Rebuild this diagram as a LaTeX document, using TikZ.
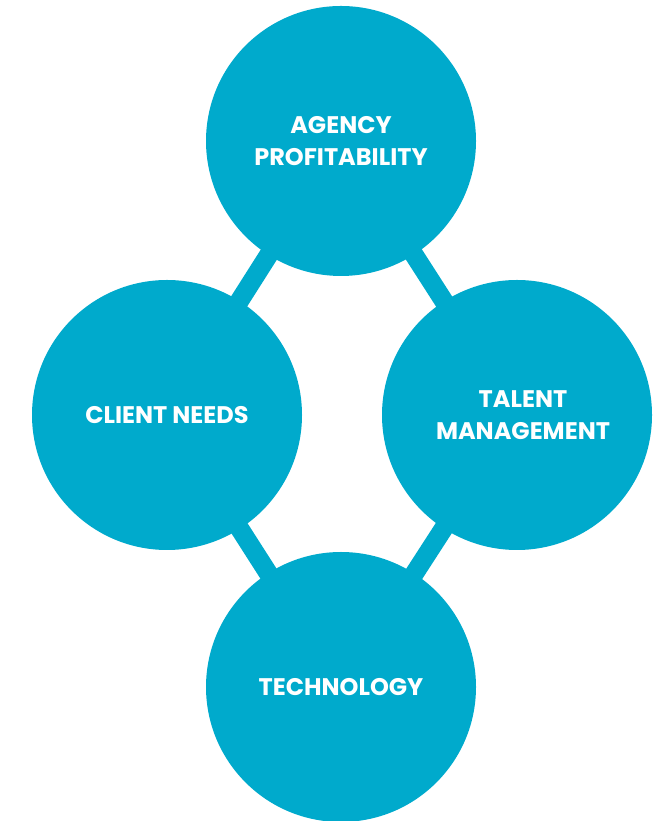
\documentclass[tikz,border=0pt]{standalone}
\usepackage{fontspec}
\setmainfont{Poppins}[BoldFont={* Bold}]
\usetikzlibrary{backgrounds}
\definecolor{teal}{RGB}{0,170,204}
\begin{document}
\begin{tikzpicture}[x=1pt,y=1pt,
  bubble/.style={circle,fill=teal,minimum size=270pt,inner sep=0pt,
    text=white,font=\bfseries\fontsize{24}{32}\selectfont,align=center},
  link/.style={draw=teal,line width=19pt}]
  \useasboundingbox (0,0) rectangle (665,821);
  \node[bubble] (top) at (341,680) {AGENCY\\PROFITABILITY};
  \node[bubble] (left) at (167,406) {CLIENT NEEDS};
  \node[bubble] (right) at (517,406) {\hspace*{12pt}TALENT\\\hspace*{12pt}MANAGEMENT};
  \node[bubble] (bottom) at (341,134) {TECHNOLOGY};
  \begin{scope}[on background layer]
    \draw[link] (top.center) -- (left.center);
    \draw[link] (top.center) -- (right.center);
    \draw[link] (left.center) -- (bottom.center);
    \draw[link] (right.center) -- (bottom.center);
  \end{scope}
\end{tikzpicture}
\end{document}
